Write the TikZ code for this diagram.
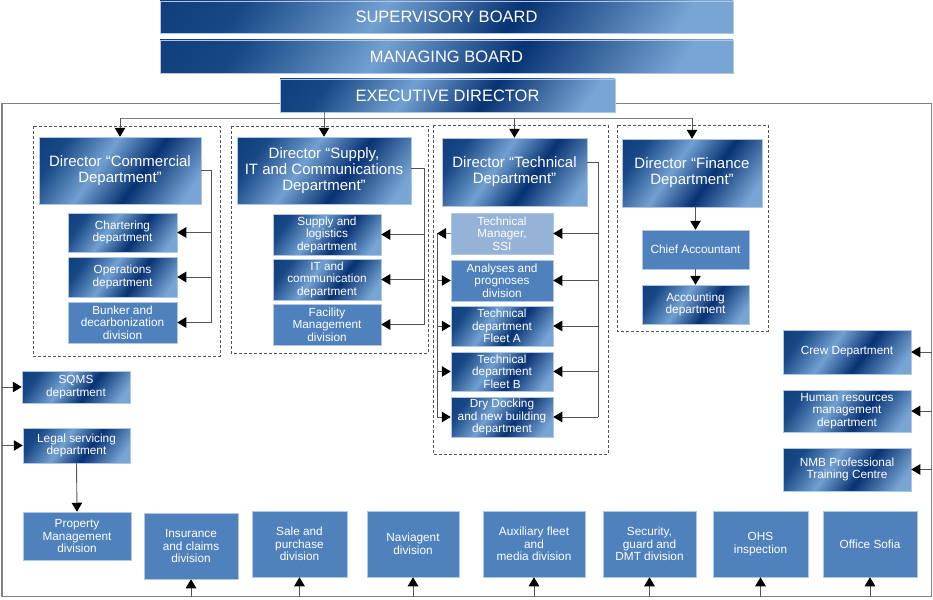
\documentclass[tikz,border=0pt]{standalone}
\usepackage{fontspec}
\setmainfont{Liberation Sans}
\usetikzlibrary{arrows.meta}
\definecolor{sA}{HTML}{174785}
\definecolor{sL}{HTML}{72A0D1}
\definecolor{sD}{HTML}{073273}
\definecolor{sL2}{HTML}{78A5D4}
\definecolor{flatB}{HTML}{4F81BD}
\definecolor{lightB}{HTML}{95B3D7}
\definecolor{lineC}{HTML}{555555}
\definecolor{frameC}{HTML}{808080}
\definecolor{edgeC}{HTML}{AFC6E4}
\pgfdeclarehorizontalshading{navystripe}{100bp}{color(0bp)=(sD); color(25bp)=(sA); color(42bp)=(sL); color(58bp)=(sD); color(78bp)=(sL2); color(100bp)=(sL2)}
\tikzset{
  grad/.style={shade, shading=navystripe, shading angle=-35, draw=edgeC, line width=0.5pt},
  flat/.style={fill=flatB, draw=edgeC, line width=0.5pt},
  lightbox/.style={fill=lightB, draw=edgeC, line width=0.5pt},
  bigt/.style={text=white, font=\fontsize{16.5}{18}\selectfont},
  dirt/.style={text=white, align=center, font=\fontsize{15}{16}\selectfont},
  smt/.style={text=white, align=center, font=\fontsize{11.8}{12.5}\selectfont},
  grp/.style={draw=lineC, dash pattern=on 3pt off 2pt, line width=0.7pt},
  ln/.style={draw=lineC, line width=0.9pt},
  arr/.style={draw=lineC, line width=0.9pt, -{Triangle[length=9pt,width=10.5pt,color=black]}},
  framest/.style={draw=frameC, line width=1.2pt},
}
\newcommand\bx[7]{\node[#6, minimum width={#4-#2}, minimum height={#5-#3}, inner sep=1pt] (#1) at ({(#2+#4)/2},{(#3+#5)/2}) {#7};}
\begin{document}
\begin{tikzpicture}[x=1pt,y=-1pt]
\useasboundingbox (0,0) rectangle (933,599);
% outer frame
\coordinate (FTL) at (2,103.5);
\coordinate (FBR) at (931.5,596.5);
\draw[framest] (FTL) rectangle (FBR);
% boards
\bx{sup}{160}{1}{733}{33}{grad,bigt}{SUPERVISORY BOARD}
\bx{man}{160}{40}{733}{73}{grad,bigt}{MANAGING BOARD}
\bx{exe}{280}{79}{615}{112}{grad,bigt}{EXECUTIVE DIRECTOR}
% groups
\draw[grp] (33,126) rectangle (220,356);
\draw[grp] (231,126) rectangle (428,353);
\draw[grp] (433,125) rectangle (608,454);
\draw[grp] (617,125) rectangle (768,331);
% directors
\bx{cdir}{39}{137}{201}{204}{grad,dirt}{Director “Commercial\\Department”}
\bx{sdir}{237}{137}{411}{204}{grad,dirt}{Director “Supply,\\IT and Communications\\Department”}
\bx{tdir}{442}{138}{587}{206}{grad,dirt}{Director “Technical\\Department”}
\bx{fdir}{622}{139}{762}{207}{grad,dirt}{Director “Finance\\Department”}
% commercial
\bx{chart}{68}{213}{177}{252}{grad,smt}{Chartering\\department}
\bx{oper}{68}{257}{177}{297}{grad,smt}{Operations\\department}
\bx{bunk}{68}{302}{177}{343}{flat,smt}{Bunker and\\decarbonization\\division}
% supply
\bx{slog}{273}{214}{381}{255}{grad,smt}{Supply and\\logistics\\department}
\bx{itc}{273}{259}{381}{300}{grad,smt}{IT and\\communication\\department}
\bx{facil}{273}{304}{381}{345}{flat,smt}{Facility\\Management\\division}
% technical
\bx{tman}{451}{213}{553}{254}{lightbox,smt}{Technical\\Manager,\\SSI}
\bx{anal}{451}{260}{553}{301}{flat,smt}{Analyses and\\prognoses\\division}
\bx{fla}{451}{306}{553}{346}{grad,smt}{Technical\\department\\Fleet A}
\bx{flb}{451}{352}{553}{391}{grad,smt}{Technical\\department\\Fleet B}
\bx{dry}{451}{397}{553}{437}{grad,smt}{Dry Docking\\and new building\\department}
% finance
\bx{chief}{642}{230}{749}{269}{flat,smt}{Chief Accountant}
\bx{acc}{642}{285}{749}{324}{grad,smt}{Accounting\\department}
% right side
\bx{crew}{783}{330}{911}{374}{grad,smt}{Crew Department}
\bx{hr}{783}{390}{911}{432}{grad,smt}{Human resources\\management\\department}
\bx{nmb}{783}{448}{911}{491}{grad,smt}{NMB Professional\\Training Centre}
% left side
\bx{sqms}{22}{371}{130}{403}{grad,smt}{SQMS\\department}
\bx{legal}{23}{428}{130}{463}{grad,smt}{Legal servicing\\department}
\bx{prop}{23}{512}{131}{560}{flat,smt}{Property\\Management\\division}
% bottom row
\bx{ins}{144}{513}{238}{579}{flat,smt}{Insurance\\and claims\\division}
\bx{sale}{252}{511}{347}{577}{flat,smt}{Sale and\\purchase\\division}
\bx{navi}{367}{511}{459}{577}{flat,smt}{Naviagent\\division}
\bx{aux}{483}{511}{585}{577}{flat,smt}{Auxiliary fleet\\and\\media division}
\bx{sec}{603}{511}{696}{577}{flat,smt}{Security,\\guard and\\DMT division}
\bx{ohs}{713}{511}{808}{577}{flat,smt}{OHS\\inspection}
\bx{sofia}{823}{511}{917}{577}{flat,smt}{Office Sofia}
% executive bus
\coordinate (bus) at (0,118);
\draw[framest,line width=1pt] (exe.south -| sdir.north) -- (sdir.north |- bus);
\draw[framest,line width=1pt] (cdir.north |- bus) -- (fdir.north |- bus);
\foreach \d in {cdir,sdir,tdir,fdir} \draw[arr] (\d.north |- bus) -- (\d.north);
% commercial connectors
\coordinate (cR) at (211,170);
\draw[ln] (cdir.east |- cR) -- (cR) -- (cR |- bunk.east);
\foreach \d in {chart,oper,bunk} \draw[arr] (cR |- \d.east) -- (\d.east);
% supply connectors
\coordinate (sR) at (424,168);
\draw[ln] (sdir.east |- sR) -- (sR) -- (sR |- facil.east);
\foreach \d in {slog,itc,facil} \draw[arr] (sR |- \d.east) -- (\d.east);
% technical connectors
\coordinate (tR) at (598,162);
\draw[ln] (tdir.east |- tR) -- (tR) -- (tR |- dry.east);
\foreach \d in {tman,anal,fla,flb,dry} \draw[arr] (tR |- \d.east) -- (\d.east);
\coordinate (tL) at (437,0);
\draw[arr,draw=frameC] (tman.west) -- (tman.west -| tL);
\draw[ln] (tman.west -| tL) -- (dry.west -| tL);
\foreach \d in {anal,fla,flb,dry} \draw[arr] (tL |- \d.west) -- (\d.west);
% finance connectors
\draw[arr] (fdir.south -| chief.north) -- (chief.north);
\draw[arr] (chief.south) -- (acc.north);
% right side connectors
\foreach \d in {crew,hr,nmb} \draw[arr] (\d.east -| FBR) -- (\d.east);
% left side connectors
\foreach \d in {sqms,legal} \draw[arr] (\d.west -| FTL) -- (\d.west);
\draw[arr] (legal.south) -- (prop.north);
% bottom connectors
\foreach \d in {ins,sale,navi,aux,sec,ohs,sofia} \draw[arr] (\d.south |- FBR) -- (\d.south);
\end{tikzpicture}
\end{document}
